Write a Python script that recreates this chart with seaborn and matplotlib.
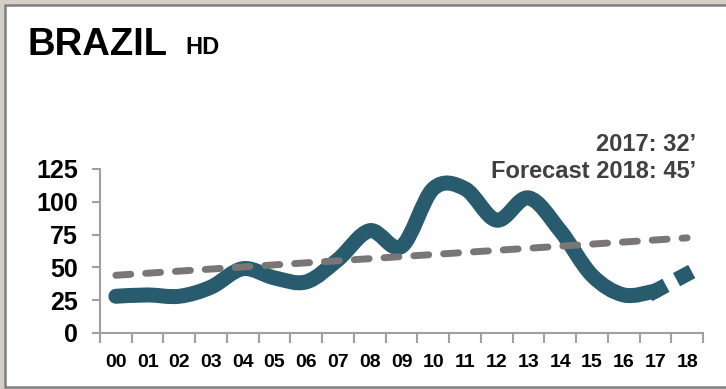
import numpy as np
import matplotlib
matplotlib.use("Agg")
import matplotlib.pyplot as plt
from matplotlib.path import Path
from matplotlib.patches import PathPatch, Rectangle
import seaborn as sns

# Yearly HD figures for Brazil (2000-2017) plus the 2018 forecast
years = ["00", "01", "02", "03", "04", "05", "06", "07", "08", "09",
         "10", "11", "12", "13", "14", "15", "16", "17", "18"]
history = [28, 29, 28, 35, 49, 42, 39, 56, 78, 66,
           110, 110, 86, 103, 78, 44, 29, 32]
forecast_2018 = 45
trend_ends = [44, 72.5]          # linear trend at 00 and at 18
yticks = [0, 25, 50, 75, 100, 125]
title = "BRAZIL"
subtitle = "HD"
note_2017 = "2017: 32\u2019"
note_2018 = "Forecast 2018: 45\u2019"

TEAL = "#285b6e"
TREND = "#7b7676"
AXIS = "#a0a0a0"
LINE_W = 10.8

sns.set_theme(style="white")
plt.rcParams["font.family"] = ["Liberation Sans", "DejaVu Sans"]

W, H = 726, 389
fig = plt.figure(figsize=(W / 100, H / 100), dpi=100, facecolor="#d4d0c8")
fig.patches.append(Rectangle((5 / W, 2 / H), 1.2, 382 / H, transform=fig.transFigure,
                             facecolor="white", edgecolor="#808080", lw=1.8, zorder=-5))

ax = fig.add_axes([100 / W, 1 - 333 / H, 603 / W, 164 / H])
ax.set_zorder(2)
ax.patch.set_alpha(0)


def smooth_path(xs, ys):
    """Cubic Bezier path through the points (Catmull-Rom style smoothing)."""
    pts = np.column_stack([xs, ys]).astype(float)
    n = len(pts)
    verts = [pts[0]]
    codes = [Path.MOVETO]
    for i in range(n - 1):
        p0 = pts[max(i - 1, 0)]
        p1 = pts[i]
        p2 = pts[i + 1]
        p3 = pts[min(i + 2, n - 1)]
        verts += [p1 + (p2 - p0) / 6, p2 - (p3 - p1) / 6, p2]
        codes += [Path.CURVE4] * 3
    return Path(verts, codes)


xs = np.arange(len(history))
curve = PathPatch(smooth_path(xs, history), transform=ax.transData, fill=False,
                  edgecolor=TEAL, lw=LINE_W, capstyle="round", joinstyle="round",
                  clip_on=False, zorder=3)
ax.add_patch(curve)

# forecast step 2017 -> 2018, drawn as a broken stroke
sns.lineplot(x=[len(history) - 1, len(history)], y=[history[-1], forecast_2018], ax=ax,
             color=TEAL, lw=LINE_W, linestyle=(0, (0.3, 1.8, 0.15, 10)),
             dash_capstyle="projecting", clip_on=False, zorder=3)

# trend line
sns.lineplot(x=[0, len(years) - 1], y=trend_ends, ax=ax, color=TREND, lw=5.0,
             linestyle=(0, (2.15, 2.15)), dash_capstyle="round",
             clip_on=False, zorder=4)

ax.set_xlim(-0.5, len(years) - 0.5)
ax.set_ylim(0, 125)

ax.set_xticks(np.arange(-0.5, len(years), 1.0))
ax.set_xticklabels([])
ax.set_xticks(np.arange(len(years)), minor=True)
ax.set_xticklabels(years, minor=True, fontsize=14, fontweight="bold", color="black")
ax.tick_params(axis="x", which="major", bottom=True, length=7, width=1.5,
               color=AXIS, direction="out")
ax.tick_params(axis="x", which="minor", bottom=True, length=0, pad=15)

ax.set_yticks(yticks)
ax.set_yticklabels([str(v) for v in yticks], fontsize=18, fontweight="bold", color="black")
ax.tick_params(axis="y", left=True, length=6, width=1.5, color=AXIS,
               direction="out", pad=10)

for side in ("top", "right"):
    ax.spines[side].set_visible(False)
for side in ("left", "bottom"):
    ax.spines[side].set_color(AXIS)
    ax.spines[side].set_linewidth(1.5)

ax.set_xlabel("")
ax.set_ylabel("")

fig.text(28 / W, 1 - 55 / H, title, fontsize=27.5, fontweight="bold",
         color="black", va="baseline")
fig.text(185 / W, 1 - 54 / H, subtitle, fontsize=17, fontweight="bold",
         color="black", va="baseline")
fig.text(696 / W, 1 - 151 / H, note_2017, fontsize=17, fontweight="bold",
         color="#404040", ha="right", va="baseline")
fig.text(696 / W, 1 - 178 / H, note_2018, fontsize=17, fontweight="bold",
         color="#404040", ha="right", va="baseline")

fig.savefig("out.png", dpi=100, facecolor=fig.get_facecolor())
